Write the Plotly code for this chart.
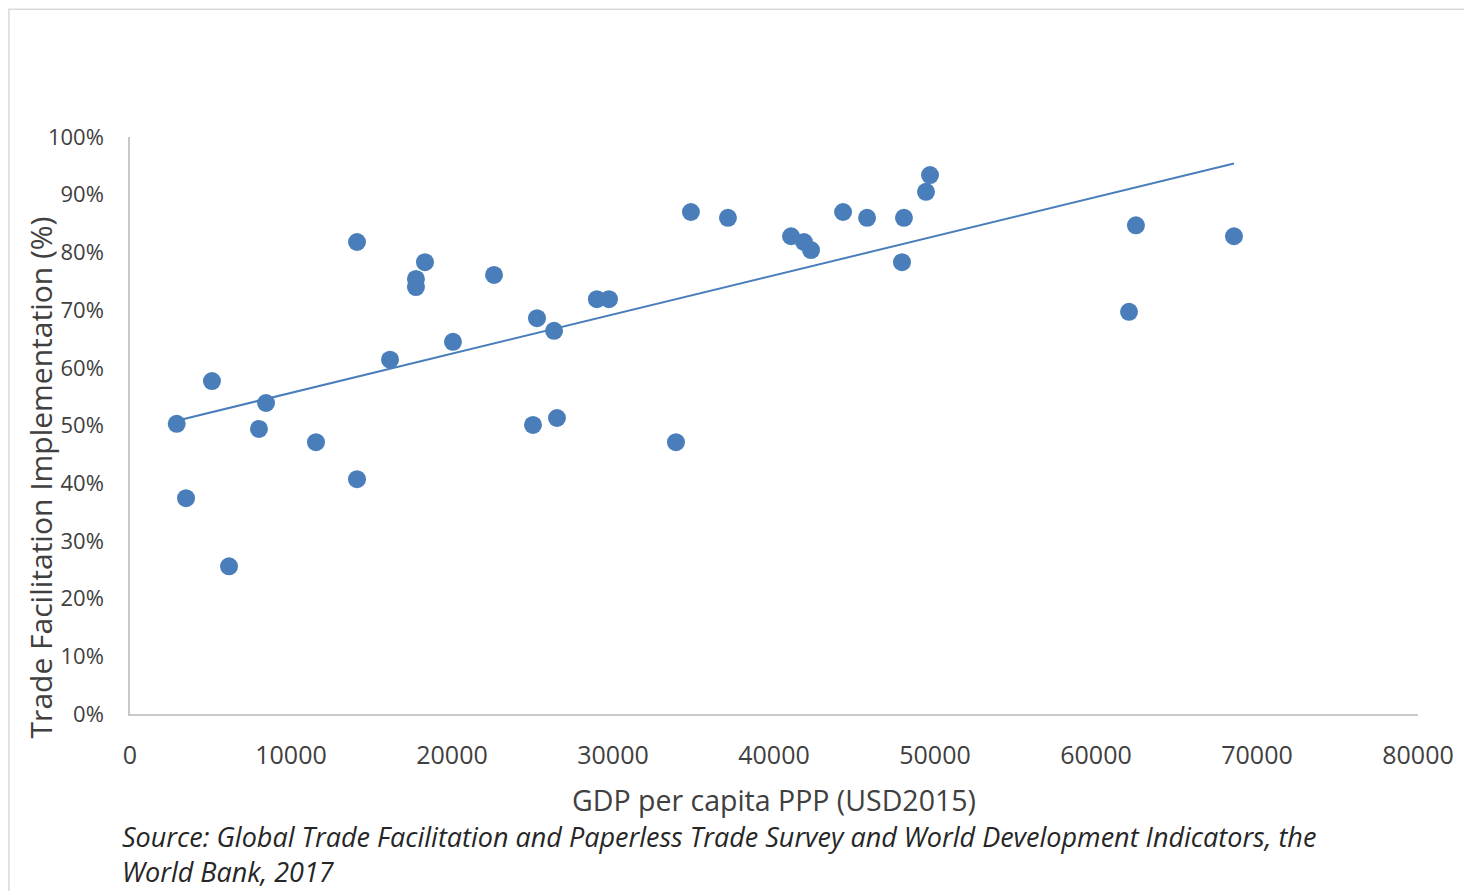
import numpy as np
import plotly.graph_objects as go

gdp = [2900, 3480, 5090, 6150, 8010, 8450, 11550, 14100, 14100, 16150,
       17760, 17760, 18320, 20060, 22610, 25030, 25280, 26340, 26520, 29000,
       29750, 33910, 34840, 37140, 41060, 41860, 42300, 44290, 45780, 47950,
       48070, 49440, 49690, 62050, 62480, 68570]
tfi = [0.503, 0.374, 0.577, 0.256, 0.494, 0.539, 0.471, 0.818, 0.407, 0.614,
       0.754, 0.740, 0.783, 0.645, 0.761, 0.501, 0.686, 0.664, 0.513, 0.719,
       0.719, 0.471, 0.870, 0.860, 0.828, 0.818, 0.804, 0.870, 0.860, 0.783,
       0.860, 0.905, 0.934, 0.697, 0.847, 0.828]

x_ticks = [0, 10000, 20000, 30000, 40000, 50000, 60000, 70000, 80000]
y_ticks = [0, 0.1, 0.2, 0.3, 0.4, 0.5, 0.6, 0.7, 0.8, 0.9, 1.0]

slope, intercept = np.polyfit(gdp, tfi, 1)
tx = np.array([min(gdp), max(gdp)])
ty = slope * tx + intercept

blue = "#4a7ebb"
fig = go.Figure()
fig.add_trace(go.Scatter(x=tx, y=ty, mode="lines",
                         line=dict(color=blue, width=2), hoverinfo="skip"))
fig.add_trace(go.Scatter(x=gdp, y=tfi, mode="markers",
                         marker=dict(color=blue, size=18, line=dict(width=0))))

font = "Open Sans, Liberation Sans, sans-serif"
fig.update_layout(
    width=1464, height=883,
    margin=dict(l=122, r=54, t=129, b=177),
    paper_bgcolor="white", plot_bgcolor="white",
    showlegend=False,
    font=dict(family=font, color="#404040"),
    xaxis=dict(range=[0, 80000], tickvals=x_ticks,
               ticktext=[str(v) for v in x_ticks],
               showgrid=False, zeroline=False, showline=True,
               linecolor="#c8c8c8", linewidth=1.5, ticks="",
               ticklabelstandoff=18,
               tickfont=dict(size=25, color="#404040"),
               title=dict(text="GDP per capita PPP (USD2015)",
                          font=dict(size=28.5, color="#404040"), standoff=21)),
    yaxis=dict(range=[0, 1.0], tickvals=y_ticks, tickformat=".0%",
               showgrid=False, zeroline=False, showline=True,
               linecolor="#c8c8c8", linewidth=1.5, ticks="",
               ticklabelstandoff=20,
               tickfont=dict(size=22, color="#404040")),
)

fig.add_annotation(xref="paper", yref="paper", x=-0.0699, y=0.41,
                   xanchor="center", yanchor="middle", textangle=-90,
                   showarrow=False, text="Trade Facilitation Implementation (%)",
                   font=dict(size=30, color="#404040", family=font))

fig.add_shape(type="rect", xref="paper", yref="paper",
              x0=-0.094, x1=1.05, y0=-0.32, y1=1.2215,
              line=dict(color="#d9d9d9", width=1.5), fillcolor="rgba(0,0,0,0)")

fig.add_annotation(xref="paper", yref="paper", x=-0.008, y=-0.176,
                   xanchor="left", yanchor="top", align="left", showarrow=False,
                   text="<i>Source: Global Trade Facilitation and Paperless Trade Survey and World Development Indicators, the<br>World Bank, 2017</i>",
                   font=dict(size=27, color="#262626", family=font))

fig.write_html("out.html")
